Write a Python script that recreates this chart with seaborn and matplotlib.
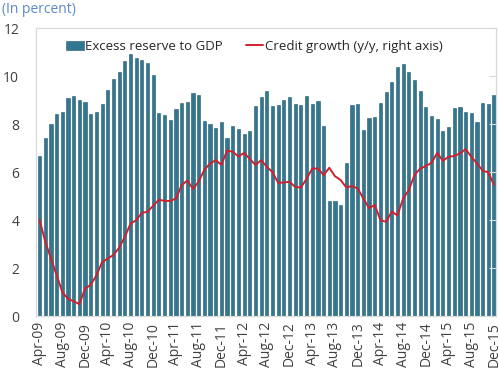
import numpy as np
import pandas as pd
import seaborn as sns
import matplotlib.pyplot as plt

# monthly data Apr-09 .. Dec-15
months = pd.date_range('2009-04-01', '2015-12-01', freq='MS').strftime('%b-%y').tolist()

excess_reserve = [6.67, 7.44, 7.99, 8.44, 8.49, 9.08, 9.18, 8.99, 8.93,
                  8.42, 8.51, 8.83, 9.42, 9.86, 10.18, 10.64, 10.94, 10.76, 10.67, 10.53, 10.04,
                  8.47, 8.38, 8.17, 8.65, 8.90, 8.93, 9.28, 9.21, 8.14, 8.00, 7.82, 8.07,
                  7.44, 7.93, 7.79, 7.58, 7.71, 8.75, 9.11, 9.38, 8.75, 8.79, 9.00, 9.11,
                  8.83, 8.79, 9.17, 8.82, 8.96, 7.92, 4.81, 4.78, 4.63, 6.36, 8.79, 8.83,
                  7.75, 8.24, 8.28, 8.89, 9.35, 9.76, 10.36, 10.49, 10.18, 9.83, 9.38, 8.72,
                  8.33, 8.22, 7.71, 7.89, 8.69, 8.71, 8.51, 8.46, 8.07, 8.89, 8.83, 9.22]

credit_growth = [4.00, 3.10, 2.40, 1.70, 1.00, 0.72, 0.62, 0.50, 1.15,
                 1.30, 1.70, 2.25, 2.40, 2.55, 2.85, 3.30, 3.85, 4.00, 4.30, 4.35, 4.60,
                 4.85, 4.80, 4.80, 4.90, 5.45, 5.65, 5.30, 5.60, 6.10, 6.35, 6.50, 6.30,
                 6.90, 6.85, 6.65, 6.80, 6.55, 6.30, 6.50, 6.22, 6.00, 5.55, 5.57, 5.60,
                 5.38, 5.36, 5.72, 6.15, 6.15, 5.88, 6.18, 5.83, 5.67, 5.36, 5.42, 5.32,
                 4.90, 4.50, 4.63, 4.00, 3.93, 4.35, 4.20, 4.90, 5.25, 5.88, 6.15, 6.25,
                 6.39, 6.80, 6.47, 6.64, 6.67, 6.78, 6.96, 6.64, 6.36, 6.06, 5.99, 5.46]

df = pd.DataFrame({'month': months, 'reserve': excess_reserve,
                   'credit': credit_growth, 'idx': np.arange(len(months))})

sns.set_style('white')
plt.rcParams['font.family'] = ['Open Sans', 'DejaVu Sans']

fig = plt.figure(figsize=(4.99, 3.75), dpi=100)
ax = fig.add_axes([0.072, 0.157, 0.922, 0.768])

sns.barplot(data=df, x='month', y='reserve', color='#31778f', saturation=1,
            width=0.55, edgecolor='#245a6e', linewidth=0.4, ax=ax,
            label='Excess reserve to GDP')

ax2 = ax.twinx()
sns.lineplot(data=df, x='idx', y='credit', color='#d0202e', lw=1.4, ax=ax2,
             label='Credit growth (y/y, right axis)', legend=False)

ax.set_xlim(-0.65, 80.35)
ax.set_ylim(0, 12)
ax2.set_ylim(0, 12)
ax.set_yticks(range(0, 13, 2))
ax2.set_yticks(range(0, 13, 2))
ax.set_xticks(range(0, len(months), 4))
ax.set_xticklabels(months[::4], rotation=90)
ax.set_xlabel('')
ax.set_ylabel('')
ax2.set_ylabel('')

ax.tick_params(axis='y', length=0, pad=12, labelsize=10, labelcolor='#404040')
ax.tick_params(axis='x', length=0, pad=4, labelsize=10, labelcolor='#404040')
ax2.tick_params(axis='y', direction='in', length=5, color='#d9d9d9', labelright=False)

for a in (ax, ax2):
    for s in a.spines.values():
        s.set_color('#d9d9d9')
        s.set_linewidth(0.8)

h1, l1 = ax.get_legend_handles_labels()
h2, l2 = ax2.get_legend_handles_labels()
ax.legend(h1 + h2, l1 + l2, loc='upper center', bbox_to_anchor=(0.475, 1.0), ncol=2,
          frameon=False, fontsize=9.5, handlelength=1.3, handletextpad=0.1,
          columnspacing=1.8, labelcolor='#262626')

fig.text(0.004, 0.995, '(In percent)', color='#5a8ac6', fontsize=10, va='top', ha='left')

fig.savefig('out.png', dpi=100)
